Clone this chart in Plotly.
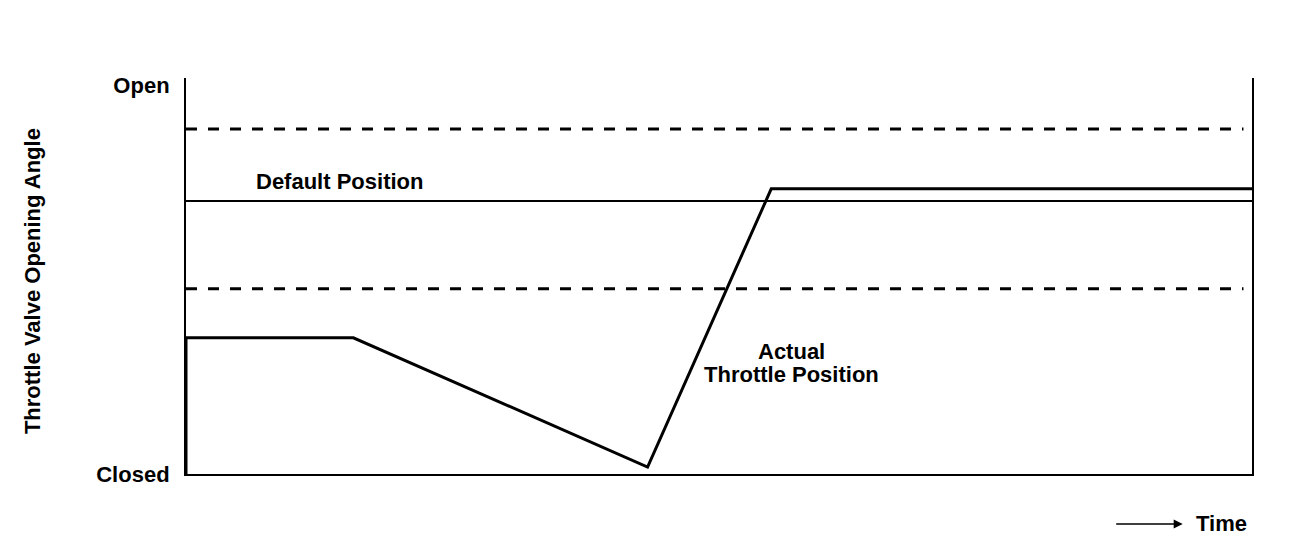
import plotly.graph_objects as go

# Data (time 0..100, opening angle: 0 = Closed, 100 = Open)
actual_time = [0, 0, 15.7, 43.3, 54.9, 100]
actual_angle = [0, 35.0, 35.0, 1.8, 73.3, 73.3]
default_time = [0, 100]
default_angle = [70.2, 70.2]
upper_limit_time = [0, 99.2]
upper_limit_angle = [88.7, 88.7]
lower_limit_time = [0, 99.2]
lower_limit_angle = [47.6, 47.6]
y_tick_vals = [0, 100]
y_tick_text = ["<b>Closed</b>", "<b>Open</b>"]

FONT = "Arial, 'Liberation Sans', sans-serif"
FS = 22

fig = go.Figure()
fig.add_trace(go.Scatter(x=upper_limit_time, y=upper_limit_angle, mode="lines",
                         line=dict(color="black", width=3, dash="11px,11px"), hoverinfo="skip"))
fig.add_trace(go.Scatter(x=lower_limit_time, y=lower_limit_angle, mode="lines",
                         line=dict(color="black", width=3, dash="11px,11px"), hoverinfo="skip"))
fig.add_trace(go.Scatter(x=default_time, y=default_angle, mode="lines",
                         line=dict(color="black", width=2), hoverinfo="skip"))
fig.add_trace(go.Scatter(x=actual_time, y=actual_angle, mode="lines",
                         line=dict(color="black", width=3), hoverinfo="skip", cliponaxis=True))

fig.add_annotation(x=14.4, y=75.1, text="<b>Default Position</b>", showarrow=False,
                   xanchor="center", yanchor="middle",
                   font=dict(size=FS, color="black", family=FONT))
fig.add_annotation(x=56.8, y=31.4, text="<b>Actual</b>", showarrow=False,
                   xanchor="center", yanchor="middle",
                   font=dict(size=FS, color="black", family=FONT))
fig.add_annotation(x=56.8, y=25.7, text="<b>Throttle Position</b>", showarrow=False,
                   xanchor="center", yanchor="middle",
                   font=dict(size=FS, color="black", family=FONT))
fig.add_annotation(xref="paper", yref="paper", x=-0.1445, y=0.487,
                   xanchor="center", yanchor="middle",
                   text="<b>Throttle Valve Opening Angle</b>", textangle=-90, showarrow=False,
                   font=dict(size=FS, color="black", family=FONT))
fig.add_annotation(xref="paper", yref="paper", x=0.971, y=-0.124, text="<b>Time</b>",
                   xanchor="center", yanchor="middle",
                   showarrow=False, font=dict(size=FS, color="black", family=FONT))
fig.add_annotation(xref="paper", yref="paper", x=0.935, y=-0.126, text="", showarrow=True,
                   ax=-68, ay=0, arrowhead=2, arrowsize=1.2, arrowwidth=1.5, arrowcolor="black")

fig.update_xaxes(range=[0, 100], showline=True, linecolor="black", linewidth=2,
                 showgrid=False, zeroline=False, showticklabels=False, ticks="")
fig.update_yaxes(range=[0, 101.8], showline=True, linecolor="black", linewidth=2, mirror=True,
                 showgrid=False, zeroline=False, tickvals=y_tick_vals, ticktext=y_tick_text,
                 ticks="", ticklabelstandoff=10, tickfont=dict(size=FS, color="black", family=FONT))
fig.update_layout(width=1296, height=538, margin=dict(l=178, r=52, t=70, b=72),
                  plot_bgcolor="white", paper_bgcolor="white", showlegend=False)
fig.write_html("out.html")
